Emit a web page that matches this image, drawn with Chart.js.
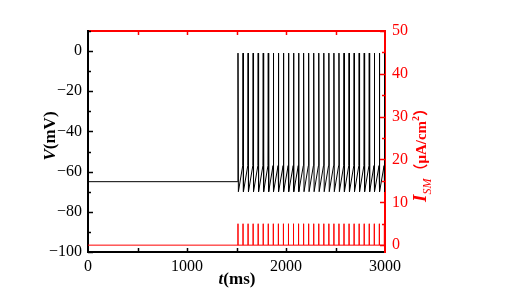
<!DOCTYPE html>
<html>
<head>
<meta charset="utf-8">
<script src="https://cdn.jsdelivr.net/npm/chart.js@4.4.1/dist/chart.umd.min.js"></script>
<style>
  body { margin: 0; background: #fff; }
  canvas { display: block; }
</style>
</head>
<body>
<canvas id="spikeChart" width="509" height="290"></canvas>
<script>
// tick labels
var timeTicks = [0, 1000, 2000, 3000];
var vTicks = [0, -20, -40, -60, -80, -100];
var iTicks = [0, 10, 20, 30, 40, 50];

// spike / pulse times (ms)
var spikeTimes = [1515, 1566, 1617, 1668, 1719, 1770, 1821, 1872, 1923, 1974,
  2025, 2076, 2127, 2178, 2229, 2280, 2331, 2382, 2433, 2484,
  2535, 2586, 2637, 2688, 2739, 2790, 2841, 2892, 2943, 2994];

// voltage levels (mV)
var restV = -65;
var peakV = -1;
var troughV = -70;
var threshV = -57;

// stimulus pulse height (uA/cm2)
var pulseAmp = 5;

var serif = '"Liberation Serif", "Times New Roman", serif';

// membrane potential trace
var vData = [{x: 0, y: restV}, {x: spikeTimes[0] - 3, y: restV}];
for (var i = 0; i < spikeTimes.length; i++) {
  var t = spikeTimes[i];
  vData.push({x: t, y: peakV});
  vData.push({x: t + 4, y: troughV});
  if (i < spikeTimes.length - 1) {
    vData.push({x: spikeTimes[i + 1] - 3, y: threshV});
  }
}
vData.push({x: 3000, y: troughV + 1});

// stimulus trace
var iData = [{x: 0, y: 0}];
for (var j = 0; j < spikeTimes.length; j++) {
  var p = spikeTimes[j];
  iData.push({x: p, y: 0});
  iData.push({x: p, y: pulseAmp});
  iData.push({x: p, y: 0});
}
iData.push({x: 3000, y: 0});

function fixTicks(list) {
  return function(scale) {
    scale.ticks = list.map(function(v) { return {value: v}; });
  };
}

// inward tick marks, titles
var decor = {
  id: 'decor',
  afterDraw: function(chart) {
    var ctx = chart.ctx;
    var a = chart.chartArea;
    var sx = chart.scales.x, sy = chart.scales.y, s2 = chart.scales.y2;
    ctx.save();
    ctx.lineWidth = 1.5;

    ctx.strokeStyle = '#000';
    for (var v = -100; v <= 10; v += 10) {
      var py = Math.round(sy.getPixelForValue(v)) + 0.5;
      var len = (v % 20 === 0) ? 5 : 3;
      ctx.beginPath(); ctx.moveTo(a.left, py); ctx.lineTo(a.left + len, py); ctx.stroke();
    }
    for (var tt = 500; tt < 3000; tt += 500) {
      var px = Math.round(sx.getPixelForValue(tt)) + 0.5;
      ctx.strokeStyle = '#000';
      ctx.beginPath(); ctx.moveTo(px, a.bottom); ctx.lineTo(px, a.bottom - 4); ctx.stroke();
      ctx.strokeStyle = '#ff0000';
      ctx.beginPath(); ctx.moveTo(px, a.top); ctx.lineTo(px, a.top + 4); ctx.stroke();
    }
    ctx.strokeStyle = '#ff0000';
    for (var k = 0; k <= 50; k += 5) {
      var qy = Math.round(s2.getPixelForValue(k)) + 0.5;
      var l2 = (k % 10 === 0) ? 5 : 3;
      ctx.beginPath(); ctx.moveTo(a.right, qy); ctx.lineTo(a.right - l2, qy); ctx.stroke();
    }

    // x title
    ctx.fillStyle = '#000';
    ctx.textBaseline = 'alphabetic';
    ctx.textAlign = 'left';
    ctx.font = 'italic bold 17px ' + serif;
    var w1 = ctx.measureText('t').width;
    ctx.font = 'bold 17px ' + serif;
    var w2 = ctx.measureText('(ms)').width;
    var x0 = 237 - (w1 + w2) / 2;
    ctx.font = 'italic bold 17px ' + serif;
    ctx.fillText('t', x0, 284);
    ctx.font = 'bold 17px ' + serif;
    ctx.fillText('(ms)', x0 + w1, 284);

    // left title
    ctx.save();
    ctx.translate(55, 136);
    ctx.rotate(-Math.PI / 2);
    ctx.font = 'italic bold 17px ' + serif;
    var v1 = ctx.measureText('V').width;
    ctx.font = 'bold 17px ' + serif;
    var v2 = ctx.measureText('(mV)').width;
    var s0 = -(v1 + v2) / 2;
    ctx.font = 'italic bold 17px ' + serif;
    ctx.fillText('V', s0, 0);
    ctx.font = 'bold 17px ' + serif;
    ctx.fillText('(mV)', s0 + v1, 0);
    ctx.restore();

    // right title
    ctx.save();
    ctx.fillStyle = '#ff0000';
    ctx.translate(426, 202);
    ctx.rotate(-Math.PI / 2);
    var parts = [
      {t: 'I', f: 'italic bold 19px ' + serif, dy: 0},
      {t: 'SM', f: 'italic 12px ' + serif, dy: 5},
      {t: '（', f: 'bold 15px "Noto Sans CJK SC", sans-serif', dy: 0},
      {t: 'μA/cm', f: 'bold 15px ' + serif, dy: 0},
      {t: '2', f: 'bold 10px ' + serif, dy: -7},
      {t: '）', f: 'bold 15px "Noto Sans CJK SC", sans-serif', dy: 0}
    ];
    var cx = 0;
    parts.forEach(function(pt) {
      ctx.font = pt.f;
      ctx.fillText(pt.t, cx, pt.dy);
      cx += ctx.measureText(pt.t).width;
    });
    ctx.restore();

    ctx.restore();
  }
};

var tickFont = {family: serif, size: 16};

var ctx = document.getElementById('spikeChart').getContext('2d');
window.spikeChart = new Chart(ctx, {
  type: 'line',
  data: {
    datasets: [{
      label: 'I_SM',
      data: iData,
      yAxisID: 'y2',
      borderColor: '#ff0000',
      borderWidth: 1,
      pointRadius: 0,
      tension: 0
    }, {
      label: 'V',
      data: vData,
      yAxisID: 'y',
      borderColor: '#000',
      borderWidth: 1,
      pointRadius: 0,
      tension: 0
    }]
  },
  options: {
    responsive: false,
    animation: false,
    layout: {padding: 0},
    plugins: {legend: {display: false}, tooltip: {enabled: false}},
    scales: {
      x: {
        type: 'linear', position: 'bottom', min: 0, max: 3000,
        afterBuildTicks: fixTicks(timeTicks),
        afterFit: function(s) { s.height = 38; },
        ticks: {
          font: tickFont, color: '#000', padding: 5, maxRotation: 0, autoSkip: false,
          callback: function(v) { return String(v); }
        },
        grid: {display: false, drawTicks: false},
        border: {color: '#000', width: 2}
      },
      xTop: {
        type: 'linear', position: 'top', min: 0, max: 3000,
        afterFit: function(s) { s.height = 31; },
        ticks: {display: false},
        grid: {display: false, drawTicks: false},
        border: {color: '#ff0000', width: 2}
      },
      y: {
        type: 'linear', position: 'left', min: -100, max: 10,
        afterBuildTicks: fixTicks(vTicks),
        afterFit: function(s) { s.width = 88; },
        ticks: {
          font: tickFont, color: '#000', padding: 6,
          callback: function(v) { return v < 0 ? '\u2212' + Math.abs(v) : String(v); }
        },
        grid: {display: false, drawTicks: false},
        border: {color: '#000', width: 2}
      },
      y2: {
        type: 'linear', position: 'right', min: -1.6, max: 50,
        afterBuildTicks: fixTicks(iTicks),
        afterFit: function(s) { s.width = 124; },
        ticks: {font: tickFont, color: '#ff0000', padding: 7},
        grid: {display: false, drawTicks: false},
        border: {color: '#ff0000', width: 2}
      }
    }
  },
  plugins: [decor]
});
</script>
</body>
</html>
